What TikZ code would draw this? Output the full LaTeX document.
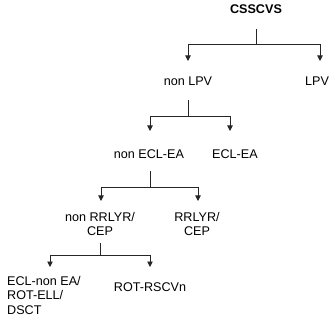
\documentclass[tikz,border=0pt]{standalone}
\usepackage{fontspec}
\setmainfont{Liberation Sans}
\usetikzlibrary{arrows.meta}
\begin{document}
\begin{tikzpicture}[x=1pt,y=1pt,
  lbl/.style={inner sep=0pt,anchor=base,font=\fontsize{12.6}{14.5}\selectfont,align=center},
  conn/.style={line width=0.9pt,draw=black!85},
  arr/.style={conn,-{Triangle[length=5.5pt,width=5.5pt]}}]
\useasboundingbox (0,0) rectangle (330,-329);
% nodes (base = baseline of the last line)
\node[lbl,font=\fontsize{12.6}{14.5}\selectfont\bfseries] (root) at (256,-14) {CSSCVS};
\node[lbl] (nonlpv) at (188,-86) {non LPV};
\node[lbl] (lpv) at (317,-86) {LPV};
\node[lbl] (noneclea) at (149,-159) {non ECL-EA};
\node[lbl] (eclea) at (235,-159) {ECL-EA};
\node[lbl] (nonrr) at (100,-236) {non RRLYR/\\CEP};
\node[lbl] (rr) at (197,-236) {RRLYR/\\CEP};
\node[lbl,align=left,anchor=base west] (eclnon) at (7,-314) {ECL-non EA/\\ROT-ELL/\\DSCT};
\node[lbl] (rotrs) at (150,-291) {ROT-RSCVn};
% junctions
\coordinate (j0) at ([yshift=-30pt]root.base);
\coordinate (j1) at ([yshift=-30pt]nonlpv.base);
\coordinate (j2) at ([yshift=-28pt,xshift=1pt]noneclea.base);
\coordinate (j3) at ([yshift=-19pt]nonrr.base);
% connectors
\draw[conn] ([yshift=-15pt]root.base) -- (j0);
\draw[arr] (j0) -| ([yshift=25pt]nonlpv.base);
\draw[arr] (j0) -| ([xshift=3pt,yshift=25pt]lpv.base);
\draw[conn] ([yshift=-14pt]nonlpv.base) -- (j1);
\draw[arr] (j1) -| ([xshift=1pt,yshift=28pt]noneclea.base);
\draw[arr] (j1) -| ([xshift=-5pt,yshift=28pt]eclea.base);
\draw[conn] ([yshift=-12pt,xshift=1pt]noneclea.base) -- (j2);
\draw[arr] (j2) -| ([xshift=1pt,yshift=35pt]nonrr.base);
\draw[arr] (j2) -| ([xshift=1pt,yshift=35pt]rr.base);
\draw[conn] ([yshift=-7pt]nonrr.base) -- (j3);
\draw[arr] (j3) -| ([xshift=43pt,yshift=47pt]eclnon.base west);
\draw[arr] (j3) -| ([yshift=24pt]rotrs.base);
\end{tikzpicture}
\end{document}
